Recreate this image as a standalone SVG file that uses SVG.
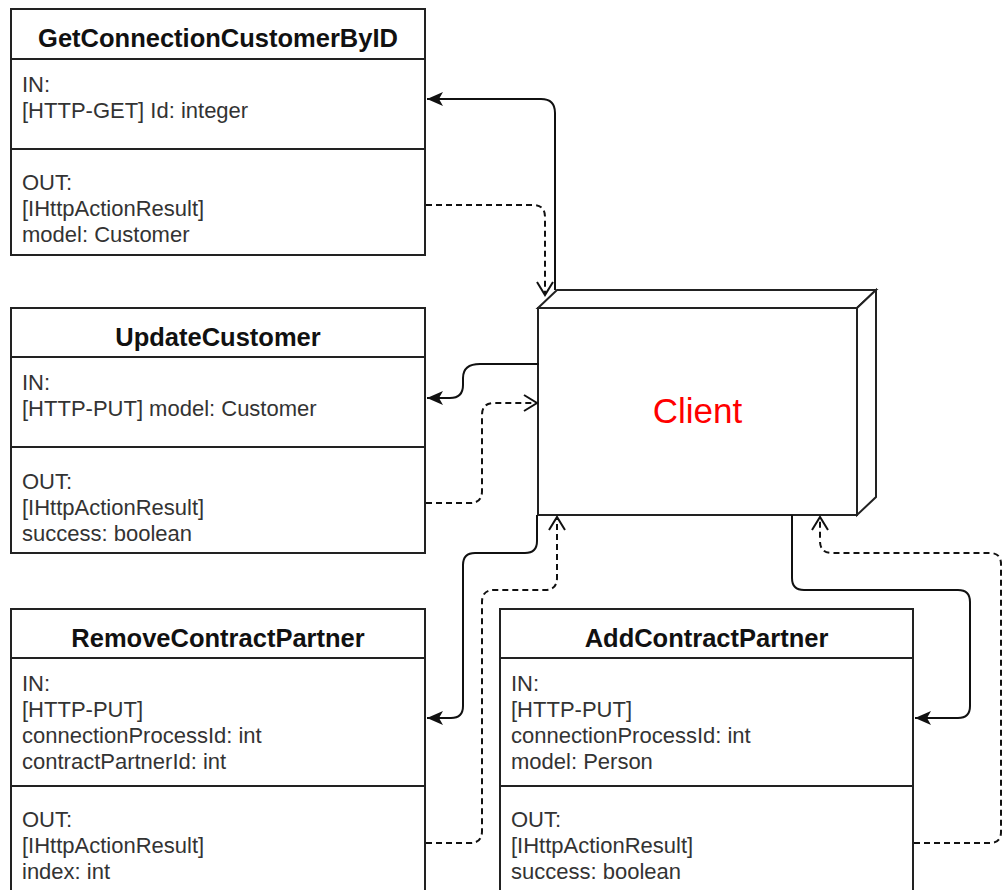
<svg xmlns="http://www.w3.org/2000/svg" width="1003" height="890" viewBox="0 0 1003 890">
<style>
.box{fill:#fff;stroke:#222;stroke-width:2}
.ln{stroke:#222;stroke-width:2}
.title{font-family:"Liberation Sans",Arial,sans-serif;font-size:25.5px;font-weight:bold;fill:#111;text-anchor:middle}
.body{font-family:"Liberation Sans",Arial,sans-serif;font-size:22px;fill:#333}
.solid{fill:none;stroke:#111;stroke-width:2}
.dash{fill:none;stroke:#111;stroke-width:2;stroke-dasharray:6 4}
</style>
<defs>
<marker id="filled" viewBox="0 0 16 14" refX="16" refY="7" markerWidth="16" markerHeight="14" markerUnits="userSpaceOnUse" orient="auto">
<path d="M0,0 L16,7 L0,14 L4,7 z" fill="#111"/>
</marker>
<marker id="open" viewBox="0 0 16 18" refX="14" refY="9" markerWidth="16" markerHeight="18" markerUnits="userSpaceOnUse" orient="auto">
<path d="M1,1 L14,9 L1,17" fill="none" stroke="#111" stroke-width="2"/>
</marker>
</defs>
<rect width="1003" height="890" fill="#fff"/>

<g id="GetConnectionCustomerByID">
<rect class="box" x="11" y="9" width="414" height="246"/>
<line class="ln" x1="11" y1="59" x2="425" y2="59"/>
<line class="ln" x1="11" y1="149" x2="425" y2="149"/>
<text class="title" x="218" y="47">GetConnectionCustomerByID</text>
<text class="body" x="22" y="92">IN:</text>
<text class="body" x="22" y="118">[HTTP-GET] Id: integer</text>
<text class="body" x="22" y="190">OUT:</text>
<text class="body" x="22" y="216">[IHttpActionResult]</text>
<text class="body" x="22" y="242">model: Customer</text>
</g>

<g id="UpdateCustomer">
<rect class="box" x="11" y="308" width="414" height="245"/>
<line class="ln" x1="11" y1="357" x2="425" y2="357"/>
<line class="ln" x1="11" y1="447" x2="425" y2="447"/>
<text class="title" x="218" y="346">UpdateCustomer</text>
<text class="body" x="22" y="390">IN:</text>
<text class="body" x="22" y="416">[HTTP-PUT] model: Customer</text>
<text class="body" x="22" y="489">OUT:</text>
<text class="body" x="22" y="515">[IHttpActionResult]</text>
<text class="body" x="22" y="541">success: boolean</text>
</g>

<g id="RemoveContractPartner">
<rect class="box" x="11" y="609" width="414" height="300"/>
<line class="ln" x1="11" y1="658" x2="425" y2="658"/>
<line class="ln" x1="11" y1="786" x2="425" y2="786"/>
<text class="title" x="218" y="647">RemoveContractPartner</text>
<text class="body" x="22" y="691">IN:</text>
<text class="body" x="22" y="717">[HTTP-PUT]</text>
<text class="body" x="22" y="743">connectionProcessId: int</text>
<text class="body" x="22" y="769">contractPartnerId: int</text>
<text class="body" x="22" y="827">OUT:</text>
<text class="body" x="22" y="853">[IHttpActionResult]</text>
<text class="body" x="22" y="879">index: int</text>
</g>

<g id="AddContractPartner">
<rect class="box" x="500" y="609" width="413" height="300"/>
<line class="ln" x1="500" y1="658" x2="913" y2="658"/>
<line class="ln" x1="500" y1="786" x2="913" y2="786"/>
<text class="title" x="706.5" y="647">AddContractPartner</text>
<text class="body" x="511" y="691">IN:</text>
<text class="body" x="511" y="717">[HTTP-PUT]</text>
<text class="body" x="511" y="743">connectionProcessId: int</text>
<text class="body" x="511" y="769">model: Person</text>
<text class="body" x="511" y="827">OUT:</text>
<text class="body" x="511" y="853">[IHttpActionResult]</text>
<text class="body" x="511" y="879">success: boolean</text>
</g>

<g id="Client">
<polygon class="box" points="538,308 557,290 876,290 857,308"/>
<polygon class="box" points="857,308 876,290 876,497 857,515"/>
<rect class="box" x="538" y="308" width="319" height="207"/>
<text x="697.5" y="423" font-family="'Liberation Sans',Arial,sans-serif" font-size="35" fill="#ff0000" text-anchor="middle">Client</text>
</g>

<g id="connectors">
<path class="solid" d="M555,290 V113 Q555,99 541,99 H427" marker-end="url(#filled)"/>
<path class="dash" d="M426,205 H533 Q545,205 545,217 V295" marker-end="url(#open)"/>
<path class="solid" d="M539,364 H480 Q463,364 463,378 V385 Q463,398 450,398 H427" marker-end="url(#filled)"/>
<path class="dash" d="M426,503 H470 Q482,503 482,491 V415 Q482,403 494,403 H537" marker-end="url(#open)"/>
<path class="solid" d="M537,515 V541 Q537,553 525,553 H475 Q463,553 463,565 V706 Q463,718 451,718 H427" marker-end="url(#filled)"/>
<path class="dash" d="M426,843 H470 Q482,843 482,831 V602 Q482,590 494,590 H545 Q557,590 557,578 V517" marker-end="url(#open)"/>
<path class="solid" d="M792,515 V578 Q792,590 804,590 H958 Q970,590 970,602 V706 Q970,718 958,718 H915" marker-end="url(#filled)"/>
<path class="dash" d="M914,843 H990 Q1001,843 1001,832 V564 Q1001,553 990,553 H832 Q820,553 820,541 V517" marker-end="url(#open)"/>
</g>
</svg>
